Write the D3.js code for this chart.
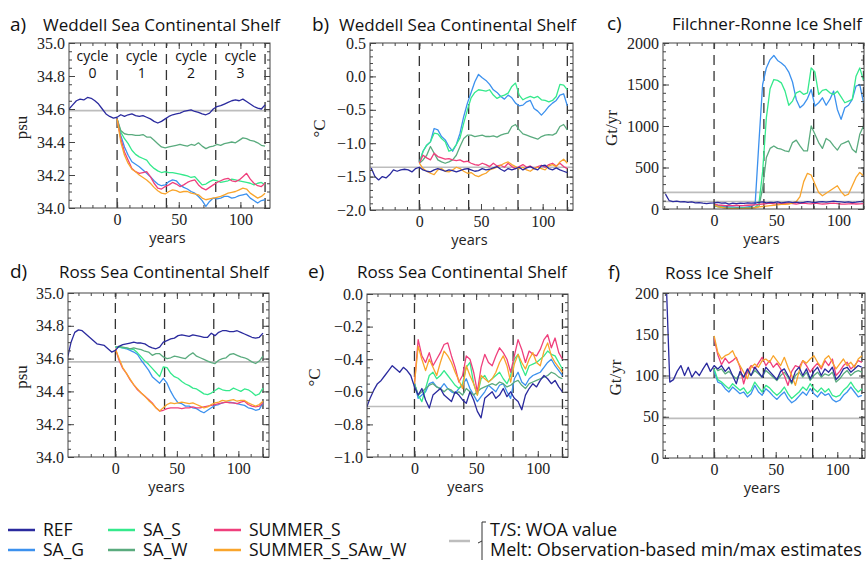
<!DOCTYPE html>
<html>
<head>
<meta charset="utf-8">
<script src="https://cdn.jsdelivr.net/npm/d3@7"></script>
<style>
  body { margin: 0; background: #fff; }
  svg { display: block; }
</style>
</head>
<body>
<svg id="fig" width="867" height="561"></svg>
<script>
/* globals d3 */

// x positions: REF spin-up from -39, experiments from year 0, every 3 years
const refYears = d3.range(-39, 121, 3);
const expYears = d3.range(0, 121, 3);

const seriesNames = ["REF", "SA_G", "SA_S", "SA_W", "SUMMER_S", "SUMMER_S_SAw_W"];
const seriesColors = ["#2a2a9e", "#3c91ee", "#35e98c", "#5aab7e", "#ef3f7c", "#f9a52c"];

const cycleBreaks = [0, 40, 80, 120];
const cycleCentres = [-20, 20, 60, 100];
const cycleNames = ["0", "1", "2", "3"];

// a) Weddell Sea continental shelf salinity (psu)
const aREF = [34.60,34.625,34.65,34.66,34.655,34.67,34.665,34.65,34.63,34.60,
  34.57,34.555,34.545,34.55,34.565,34.555,34.565,34.57,34.56,34.555,
  34.56,34.55,34.54,34.525,34.515,34.525,34.54,34.555,34.565,34.57,
  34.575,34.585,34.59,34.595,34.585,34.58,34.57,34.565,34.575,34.60,
  34.615,34.62,34.63,34.64,34.65,34.655,34.65,34.66,34.645,34.63,
  34.615,34.605,34.60,34.625];
const aSAG = [34.54,34.44,34.37,34.32,34.28,34.265,34.25,34.23,34.21,34.19,
  34.165,34.145,34.135,34.14,34.16,34.17,34.165,34.14,34.125,34.115,
  34.10,34.09,34.07,34.045,34.01,34.04,34.06,34.055,34.06,34.07,
  34.07,34.06,34.065,34.075,34.08,34.085,34.06,34.045,34.03,34.045,34.05];
const aSAS = [34.54,34.46,34.42,34.39,34.35,34.325,34.31,34.30,34.29,34.26,
  34.24,34.225,34.215,34.22,34.215,34.215,34.21,34.205,34.20,34.195,
  34.185,34.19,34.165,34.14,34.145,34.16,34.17,34.165,34.155,34.16,
  34.165,34.175,34.17,34.165,34.16,34.155,34.15,34.14,34.15,34.155,34.14];
const aSAW = [34.54,34.47,34.45,34.445,34.445,34.44,34.44,34.445,34.43,34.43,
  34.41,34.39,34.37,34.365,34.37,34.375,34.38,34.385,34.38,34.375,
  34.385,34.38,34.395,34.375,34.36,34.37,34.375,34.385,34.38,34.39,
  34.395,34.40,34.395,34.41,34.425,34.42,34.41,34.405,34.395,34.38,34.375];
const aSUM = [34.54,34.42,34.34,34.29,34.24,34.22,34.21,34.215,34.22,34.19,
  34.15,34.12,34.115,34.13,34.14,34.155,34.145,34.13,34.14,34.155,
  34.165,34.17,34.14,34.12,34.11,34.125,34.14,34.155,34.165,34.175,
  34.18,34.165,34.16,34.17,34.19,34.21,34.175,34.15,34.135,34.13,34.15];
const aSUMW = [34.54,34.40,34.32,34.27,34.235,34.22,34.20,34.185,34.17,34.15,
  34.125,34.105,34.09,34.085,34.10,34.11,34.105,34.095,34.10,34.10,
  34.09,34.085,34.08,34.06,34.05,34.055,34.06,34.065,34.07,34.08,
  34.09,34.095,34.10,34.11,34.12,34.115,34.09,34.075,34.06,34.07,34.09];

// b) Weddell Sea continental shelf temperature (degC)
const bREF = [-1.37,-1.50,-1.55,-1.50,-1.52,-1.47,-1.40,-1.42,-1.40,-1.39,
  -1.40,-1.43,-1.38,-1.36,-1.40,-1.42,-1.43,-1.40,-1.38,-1.40,
  -1.42,-1.40,-1.41,-1.43,-1.41,-1.39,-1.38,-1.40,-1.42,-1.41,
  -1.38,-1.40,-1.39,-1.37,-1.35,-1.39,-1.42,-1.38,-1.40,-1.38,
  -1.36,-1.40,-1.37,-1.35,-1.38,-1.40,-1.34,-1.33,-1.38,-1.40,
  -1.37,-1.40,-1.42,-1.44];
const bSAG = [-1.30,-1.12,-1.03,-0.98,-0.78,-0.80,-0.90,-0.95,-1.05,-1.12,
  -1.02,-0.85,-0.60,-0.40,-0.24,-0.08,0.03,-0.02,-0.06,-0.12,
  -0.20,-0.24,-0.30,-0.34,-0.28,-0.32,-0.40,-0.44,-0.43,-0.38,
  -0.36,-0.48,-0.52,-0.58,-0.52,-0.45,-0.40,-0.36,-0.28,-0.26,-0.44];
const bSAS = [-1.30,-1.12,-1.03,-0.98,-0.85,-0.86,-0.93,-0.98,-1.12,-1.10,
  -1.02,-0.92,-0.70,-0.50,-0.32,-0.24,-0.20,-0.21,-0.22,-0.20,
  -0.28,-0.33,-0.30,-0.28,-0.25,-0.15,-0.10,-0.28,-0.35,-0.32,
  -0.30,-0.32,-0.30,-0.35,-0.36,-0.38,-0.36,-0.30,-0.12,-0.13,-0.20];
const bSAW = [-1.30,-1.25,-1.18,-1.05,-1.15,-1.25,-1.28,-1.30,-1.28,-1.25,
  -1.18,-1.05,-0.93,-0.88,-0.88,-0.90,-0.89,-0.88,-0.90,-0.90,
  -0.89,-0.91,-0.88,-0.86,-0.85,-0.75,-0.72,-0.80,-0.86,-0.88,
  -0.90,-0.92,-0.94,-0.90,-0.88,-0.87,-0.88,-0.85,-0.75,-0.72,-0.80];
const bSUM = [-1.30,-1.18,-1.22,-1.25,-1.15,-1.20,-1.22,-1.24,-1.23,-1.25,
  -1.26,-1.25,-1.28,-1.27,-1.30,-1.32,-1.33,-1.30,-1.32,-1.35,
  -1.30,-1.34,-1.33,-1.36,-1.30,-1.35,-1.38,-1.35,-1.32,-1.36,
  -1.34,-1.38,-1.35,-1.33,-1.36,-1.32,-1.30,-1.34,-1.30,-1.35,-1.38];
const bSUMW = [-1.30,-1.38,-1.42,-1.45,-1.47,-1.40,-1.38,-1.42,-1.43,-1.40,
  -1.36,-1.38,-1.42,-1.45,-1.44,-1.48,-1.50,-1.47,-1.45,-1.40,
  -1.38,-1.36,-1.33,-1.30,-1.28,-1.32,-1.35,-1.38,-1.36,-1.40,
  -1.42,-1.38,-1.36,-1.38,-1.40,-1.34,-1.32,-1.35,-1.28,-1.24,-1.30];

// c) Filchner-Ronne Ice Shelf basal melt (Gt/yr)
const cREF = [180,100,90,95,85,90,80,85,75,78,
  70,65,72,75,80,70,75,60,70,65,
  72,68,75,70,72,80,85,75,80,78,
  85,75,80,85,78,82,75,80,88,82,
  78,85,90,82,88,95,90,85,80,85,
  78,82,88,90];
const cSAG = [60,45,35,30,25,25,20,22,20,25,
  30,60,800,1500,1700,1800,1850,1790,1760,1720,
  1650,1530,1320,1220,1260,1330,1440,1240,1280,1340,
  1250,1320,1420,1200,1080,1220,1250,1320,1480,1500,1280];
const cSAS = [50,35,25,15,10,10,8,10,12,12,
  15,20,60,450,1100,1450,1560,1550,1520,1420,
  1250,1300,1400,1420,1380,1400,1700,1650,1380,1430,
  1440,1400,1380,1420,1350,1280,1300,1320,1600,1700,1550];
const cSAW = [40,25,20,15,10,10,12,10,12,15,
  18,20,30,250,620,730,760,730,720,700,
  690,800,830,760,700,700,1000,900,800,730,
  850,820,760,710,780,800,820,720,680,900,1000];
const cSUM = [60,50,45,40,42,40,45,40,42,45,
  48,50,55,60,65,70,62,60,65,68,
  70,65,60,68,72,65,62,70,66,60,
  62,68,70,65,60,58,62,65,60,62,65];
const cSUMW = [50,30,20,10,5,5,5,5,5,8,
  10,15,25,30,35,40,45,50,55,55,
  60,70,90,150,330,430,410,300,200,160,
  190,220,250,280,210,160,180,280,380,440,400];

// d) Ross Sea continental shelf salinity (psu)
const dREF = [34.60,34.70,34.76,34.775,34.77,34.75,34.73,34.71,34.69,34.685,
  34.68,34.66,34.64,34.65,34.675,34.685,34.69,34.695,34.70,34.695,
  34.695,34.69,34.675,34.665,34.66,34.67,34.70,34.71,34.72,34.725,
  34.74,34.745,34.74,34.735,34.745,34.74,34.735,34.73,34.73,34.755,
  34.74,34.76,34.77,34.77,34.765,34.765,34.77,34.76,34.75,34.74,
  34.73,34.725,34.73,34.755];
const dSAG = [34.67,34.67,34.665,34.66,34.65,34.64,34.625,34.59,34.56,34.53,
  34.49,34.47,34.45,34.48,34.45,34.40,34.36,34.33,34.325,34.31,
  34.31,34.30,34.295,34.28,34.27,34.285,34.30,34.315,34.32,34.33,
  34.335,34.335,34.33,34.325,34.32,34.315,34.30,34.295,34.285,34.29,34.33];
const dSAS = [34.67,34.67,34.665,34.665,34.66,34.655,34.635,34.61,34.585,34.565,
  34.54,34.515,34.49,34.55,34.545,34.51,34.49,34.48,34.46,34.445,
  34.435,34.42,34.415,34.40,34.385,34.38,34.39,34.405,34.42,34.41,
  34.405,34.405,34.42,34.41,34.40,34.415,34.41,34.395,34.375,34.385,34.42];
const dSAW = [34.67,34.675,34.67,34.665,34.66,34.665,34.66,34.655,34.645,34.64,
  34.62,34.63,34.63,34.61,34.60,34.605,34.615,34.61,34.605,34.60,
  34.62,34.635,34.615,34.605,34.595,34.585,34.575,34.57,34.59,34.60,
  34.605,34.625,34.63,34.62,34.61,34.605,34.595,34.58,34.57,34.585,34.615];
const dSUM = [34.66,34.59,34.54,34.51,34.47,34.44,34.41,34.39,34.37,34.35,
  34.33,34.30,34.28,34.285,34.295,34.30,34.30,34.30,34.295,34.30,
  34.30,34.305,34.30,34.30,34.305,34.31,34.315,34.32,34.325,34.33,
  34.335,34.33,34.33,34.325,34.335,34.34,34.32,34.31,34.305,34.31,34.33];
const dSUMW = [34.66,34.60,34.545,34.51,34.475,34.44,34.415,34.39,34.37,34.345,
  34.325,34.30,34.28,34.30,34.32,34.33,34.325,34.33,34.335,34.33,
  34.325,34.33,34.32,34.31,34.30,34.305,34.32,34.33,34.335,34.345,
  34.34,34.345,34.35,34.34,34.345,34.345,34.33,34.32,34.31,34.32,34.34];

// e) Ross Sea continental shelf temperature (degC)
const eREF = [-0.70,-0.64,-0.59,-0.55,-0.53,-0.50,-0.47,-0.44,-0.46,-0.48,
  -0.45,-0.47,-0.50,-0.57,-0.62,-0.58,-0.65,-0.70,-0.62,-0.60,
  -0.58,-0.62,-0.64,-0.66,-0.60,-0.62,-0.65,-0.67,-0.60,-0.65,
  -0.72,-0.76,-0.64,-0.62,-0.60,-0.64,-0.62,-0.58,-0.63,-0.60,
  -0.64,-0.66,-0.71,-0.62,-0.58,-0.55,-0.57,-0.53,-0.50,-0.52,
  -0.55,-0.53,-0.57,-0.60];
const eSAG = [-0.55,-0.64,-0.62,-0.60,-0.55,-0.54,-0.57,-0.58,-0.55,-0.58,
  -0.60,-0.61,-0.58,-0.56,-0.52,-0.58,-0.62,-0.66,-0.63,-0.60,
  -0.56,-0.58,-0.60,-0.56,-0.55,-0.60,-0.64,-0.52,-0.48,-0.54,
  -0.56,-0.52,-0.50,-0.49,-0.48,-0.45,-0.42,-0.40,-0.44,-0.47,-0.50];
const eSAS = [-0.55,-0.62,-0.66,-0.58,-0.50,-0.48,-0.52,-0.50,-0.47,-0.50,
  -0.53,-0.56,-0.58,-0.55,-0.45,-0.42,-0.55,-0.62,-0.52,-0.50,
  -0.54,-0.52,-0.50,-0.48,-0.52,-0.55,-0.50,-0.40,-0.37,-0.45,
  -0.50,-0.44,-0.43,-0.42,-0.40,-0.38,-0.35,-0.37,-0.38,-0.42,-0.46];
const eSAW = [-0.55,-0.62,-0.60,-0.58,-0.56,-0.55,-0.57,-0.58,-0.60,-0.58,
  -0.59,-0.61,-0.60,-0.62,-0.58,-0.60,-0.62,-0.60,-0.58,-0.57,
  -0.56,-0.55,-0.56,-0.54,-0.55,-0.57,-0.56,-0.54,-0.53,-0.56,
  -0.58,-0.55,-0.54,-0.53,-0.52,-0.51,-0.50,-0.48,-0.49,-0.51,-0.52];
const eSUM = [-0.55,-0.28,-0.38,-0.42,-0.36,-0.44,-0.40,-0.36,-0.31,-0.30,
  -0.38,-0.45,-0.54,-0.50,-0.38,-0.40,-0.48,-0.60,-0.45,-0.37,
  -0.42,-0.44,-0.38,-0.33,-0.36,-0.40,-0.48,-0.38,-0.28,-0.34,
  -0.42,-0.35,-0.37,-0.38,-0.34,-0.28,-0.25,-0.33,-0.27,-0.36,-0.40];
const eSUMW = [-0.55,-0.32,-0.40,-0.47,-0.40,-0.45,-0.50,-0.42,-0.35,-0.38,
  -0.42,-0.48,-0.53,-0.58,-0.44,-0.50,-0.55,-0.62,-0.50,-0.52,
  -0.54,-0.52,-0.48,-0.42,-0.38,-0.44,-0.54,-0.43,-0.37,-0.42,
  -0.46,-0.40,-0.36,-0.42,-0.44,-0.35,-0.30,-0.38,-0.42,-0.45,-0.48];

// f) Ross Ice Shelf basal melt (Gt/yr)
const fREF = [220,92,95,105,112,100,110,98,105,100,
  108,115,105,112,108,112,105,110,100,90,
  105,98,108,100,110,104,98,110,105,100,
  95,105,108,100,92,105,110,100,108,96,
  105,110,100,108,104,110,95,100,108,110,
  104,108,112,110];
const fSAG = [105,92,90,84,80,86,82,78,80,74,
  78,88,80,76,84,80,75,71,76,80,
  72,67,70,75,80,76,84,78,74,80,
  76,78,71,68,70,76,80,86,80,74,76];
const fSAS = [108,95,92,88,84,90,86,82,85,78,
  82,92,86,80,88,85,80,76,80,86,
  78,72,76,80,86,82,90,84,80,85,
  80,84,76,74,76,82,86,92,85,80,84];
const fSAW = [112,106,108,102,105,100,96,102,98,104,
  100,106,102,98,106,102,98,94,100,104,
  98,90,100,104,98,104,94,100,104,98,
  102,100,104,92,96,102,106,100,104,106,104];
const fSUM = [145,125,113,121,115,118,122,110,90,105,
  112,108,115,122,112,118,110,115,108,100,
  88,105,112,110,118,112,104,110,115,108,
  118,112,120,100,105,112,116,108,112,118,116];
const fSUMW = [148,128,120,124,126,130,120,112,104,96,
  110,114,110,118,120,116,124,118,112,122,
  110,100,88,105,118,115,120,124,116,110,
  120,124,116,108,114,120,112,116,110,120,124];

// grey reference values (WOA value / observed melt min-max)
const aObs = [34.59];
const bObs = [-1.36];
const cObs = [200, 90];
const dObs = [34.58];
const eObs = [-0.69];
const fObs = [97, 48];

const aTicks = [34.0, 34.2, 34.4, 34.6, 34.8, 35.0];
const bTicks = [-2.0, -1.5, -1.0, -0.5, 0.0, 0.5];
const cTicks = [0, 500, 1000, 1500, 2000];
const eTicks = [-1.0, -0.8, -0.6, -0.4, -0.2, 0.0];
const fTicks = [0, 50, 100, 150, 200];
const xTicks = [0, 50, 100];

const panels = [
  { key: "a", letter: "a)", title: "Weddell Sea Continental Shelf", unit: "psu",
    box: [69, 43, 270, 208], xDom: [-39, 124], yDom: [34, 35], yTicks: aTicks, yMinor: 0.05,
    fmt: ".1f", obs: aObs, data: [aREF, aSAG, aSAS, aSAW, aSUM, aSUMW],
    letterX: 10, titleX: 43, titleY: 31, unitX: 21, cycles: true },
  { key: "b", letter: "b)", title: "Weddell Sea Continental Shelf", unit: "°C",
    box: [370, 43, 573, 210], xDom: [-40, 124.6], yDom: [-2, 0.5], yTicks: bTicks, yMinor: 0.1,
    fmt: ".1f", obs: bObs, data: [bREF, bSAG, bSAS, bSAW, bSUM, bSUMW],
    letterX: 312, titleX: 339, titleY: 31, unitX: 319 },
  { key: "c", letter: "c)", title: "Filchner-Ronne Ice Shelf", unit: "Gt/yr",
    box: [663, 43, 864, 209], xDom: [-41, 120.4], yDom: [0, 2000], yTicks: cTicks, yMinor: 100,
    fmt: "d", obs: cObs, data: [cREF, cSAG, cSAS, cSAW, cSUM, cSUMW],
    letterX: 607, titleX: 672, titleY: 30, unitX: 611 },
  { key: "d", letter: "d)", title: "Ross Sea Continental Shelf", unit: "psu",
    box: [68, 293, 269, 457], xDom: [-38.5, 124.9], yDom: [34, 35], yTicks: aTicks, yMinor: 0.05,
    fmt: ".1f", obs: dObs, data: [dREF, dSAG, dSAS, dSAW, dSUM, dSUMW],
    letterX: 10, titleX: 59, titleY: 278, unitX: 21 },
  { key: "e", letter: "e)", title: "Ross Sea Continental Shelf", unit: "°C",
    box: [367, 294, 568, 457], xDom: [-38.5, 124.5], yDom: [-1, 0], yTicks: eTicks, yMinor: 0.05,
    fmt: ".1f", obs: eObs, data: [eREF, eSAG, eSAS, eSAW, eSUM, eSUMW],
    letterX: 308, titleX: 357, titleY: 278, unitX: 314 },
  { key: "f", letter: "f)", title: "Ross Ice Shelf", unit: "Gt/yr",
    box: [663, 293, 865, 458], xDom: [-41.5, 122.5], yDom: [0, 200], yTicks: fTicks, yMinor: 10,
    fmt: "d", obs: fObs, data: [fREF, fSAG, fSAS, fSAW, fSUM, fSUMW],
    letterX: 608, titleX: 665, titleY: 279, unitX: 615 },
];

const svg = d3.select("#fig");
const sans = "'Open Sans', sans-serif";
const serif = "'Liberation Serif', 'DejaVu Serif', serif";
const axisInk = "#444";

panels.forEach((p) => drawPanel(p));
drawLegend();

function styleAxis(g, withText) {
  g.select(".domain").remove();
  g.selectAll("line").attr("stroke", axisInk);
  g.attr("font-family", serif).attr("font-size", 16);
  if (withText) g.selectAll("text").attr("fill", "#222");
}

function drawPanel(p) {
  const [x0, y0, x1, y1] = p.box;
  const x = d3.scaleLinear().domain(p.xDom).range([x0, x1]);
  const y = d3.scaleLinear().domain(p.yDom).range([y1, y0]);
  const g = svg.append("g").attr("class", "panel-" + p.key);

  svg.append("clipPath").attr("id", "clip-" + p.key)
    .append("rect").attr("x", x0).attr("y", y0).attr("width", x1 - x0).attr("height", y1 - y0);
  const plot = g.append("g").attr("clip-path", `url(#clip-${p.key})`);

  // grey observation lines
  plot.selectAll("line.obs").data(p.obs).join("line")
    .attr("class", "obs")
    .attr("x1", x0).attr("x2", x1)
    .attr("y1", (d) => y(d)).attr("y2", (d) => y(d))
    .attr("stroke", "#bdbdbd").attr("stroke-width", 1.6);

  // dashed cycle boundaries
  plot.selectAll("line.cyc").data(cycleBreaks).join("line")
    .attr("class", "cyc")
    .attr("x1", (d) => x(d)).attr("x2", (d) => x(d))
    .attr("y1", y1).attr("y2", y0)
    .attr("stroke", "#333").attr("stroke-width", 1.3)
    .attr("stroke-dasharray", "10,6");

  // model runs: experiments first, REF on top
  const line = d3.line().x((d) => x(d[0])).y((d) => y(d[1]));
  const order = [1, 2, 3, 4, 5, 0];
  order.forEach((i) => {
    const yrs = i === 0 ? refYears : expYears;
    const pts = yrs.map((yr, j) => [yr, p.data[i][j]]);
    plot.append("path")
      .datum(pts)
      .attr("d", line)
      .attr("fill", "none")
      .attr("stroke", seriesColors[i])
      .attr("stroke-width", 1.3)
      .attr("stroke-linejoin", "round");
  });

  // frame
  g.append("rect")
    .attr("x", x0).attr("y", y0).attr("width", x1 - x0).attr("height", y1 - y0)
    .attr("fill", "none").attr("stroke", axisInk).attr("stroke-width", 1);

  // y axes (ticks point inward)
  const yMinorVals = d3.range(p.yDom[0], p.yDom[1] + p.yMinor / 2, p.yMinor);
  const fmt = d3.format(p.fmt);
  g.append("g").attr("transform", `translate(${x0},0)`)
    .call(d3.axisLeft(y).tickValues(p.yTicks).tickSize(-6).tickSizeOuter(0).tickPadding(4).tickFormat(fmt))
    .call((s) => styleAxis(s, true));
  g.append("g").attr("transform", `translate(${x0},0)`)
    .call(d3.axisLeft(y).tickValues(yMinorVals).tickSize(-3).tickSizeOuter(0).tickFormat(""))
    .call((s) => styleAxis(s, false));
  g.append("g").attr("transform", `translate(${x1},0)`)
    .call(d3.axisRight(y).tickValues(p.yTicks).tickSize(-6).tickSizeOuter(0).tickFormat(""))
    .call((s) => styleAxis(s, false));
  g.append("g").attr("transform", `translate(${x1},0)`)
    .call(d3.axisRight(y).tickValues(yMinorVals).tickSize(-3).tickSizeOuter(0).tickFormat(""))
    .call((s) => styleAxis(s, false));

  // x axes
  const xMinorVals = d3.range(-40, 125, 10).filter((v) => v >= p.xDom[0] && v <= p.xDom[1]);
  g.append("g").attr("transform", `translate(0,${y1})`)
    .call(d3.axisBottom(x).tickValues(xTicks).tickSize(-6).tickSizeOuter(0).tickPadding(6).tickFormat(d3.format("d")))
    .call((s) => styleAxis(s, true));
  g.append("g").attr("transform", `translate(0,${y1})`)
    .call(d3.axisBottom(x).tickValues(xMinorVals).tickSize(-3).tickSizeOuter(0).tickFormat(""))
    .call((s) => styleAxis(s, false));
  g.append("g").attr("transform", `translate(0,${y0})`)
    .call(d3.axisTop(x).tickValues(xTicks).tickSize(-6).tickSizeOuter(0).tickFormat(""))
    .call((s) => styleAxis(s, false));
  g.append("g").attr("transform", `translate(0,${y0})`)
    .call(d3.axisTop(x).tickValues(xMinorVals).tickSize(-3).tickSizeOuter(0).tickFormat(""))
    .call((s) => styleAxis(s, false));

  // labels
  g.append("text")
    .attr("x", (x0 + x1) / 2 - 2).attr("y", y1 + 35)
    .attr("text-anchor", "middle")
    .attr("font-family", sans).attr("font-size", 14.5).attr("fill", "#222")
    .text("years");
  g.append("text")
    .attr("transform", `translate(${p.unitX},${(y0 + y1) / 2 + 2}) rotate(-90)`)
    .attr("text-anchor", "middle").attr("dy", "0.35em")
    .attr("font-family", serif).attr("font-size", 17).attr("fill", "#222")
    .text(p.unit);
  g.append("text")
    .attr("x", p.letterX).attr("y", p.titleY)
    .attr("font-family", sans).attr("font-size", 19).attr("fill", "#111")
    .text(p.letter);
  g.append("text")
    .attr("x", p.titleX).attr("y", p.titleY)
    .attr("font-family", sans).attr("font-size", 17).attr("fill", "#111")
    .text(p.title);

  if (p.cycles) {
    const cg = g.selectAll("g.cycle").data(cycleCentres).join("g")
      .attr("class", "cycle")
      .attr("transform", (d) => `translate(${x(d)},0)`);
    cg.append("text").attr("y", y0 + 18).attr("text-anchor", "middle")
      .attr("font-family", sans).attr("font-size", 14).attr("fill", "#111")
      .text("cycle");
    cg.append("text").attr("y", y0 + 35).attr("text-anchor", "middle")
      .attr("font-family", sans).attr("font-size", 14).attr("fill", "#111")
      .text((d, i) => cycleNames[i]);
  }
}

function drawLegend() {
  const cols = [8, 108, 214];
  const rows = [530, 550];
  const lg = svg.append("g").attr("class", "legend");
  seriesNames.forEach((name, i) => {
    const cx = cols[Math.floor(i / 2)];
    const cy = rows[i % 2];
    lg.append("line")
      .attr("x1", cx).attr("x2", cx + 27).attr("y1", cy).attr("y2", cy)
      .attr("stroke", seriesColors[i]).attr("stroke-width", 2.5);
    lg.append("text")
      .attr("x", cx + 35).attr("y", cy).attr("dy", "0.35em")
      .attr("font-family", sans).attr("font-size", 17.5).attr("fill", "#111")
      .text(name);
  });
  lg.append("line")
    .attr("x1", 449).attr("x2", 470).attr("y1", 541).attr("y2", 541)
    .attr("stroke", "#bdbdbd").attr("stroke-width", 2.5);
  lg.append("path")
    .attr("d", "M486,522 L482,522 L482,560 M482,541 L478,543")
    .attr("fill", "none").attr("stroke", "#333").attr("stroke-width", 1);
  lg.append("text")
    .attr("x", 490).attr("y", 530).attr("dy", "0.35em")
    .attr("font-family", sans).attr("font-size", 18).attr("fill", "#111")
    .text("T/S: WOA value");
  lg.append("text")
    .attr("x", 490).attr("y", 550).attr("dy", "0.35em")
    .attr("font-family", sans).attr("font-size", 18).attr("fill", "#111")
    .text("Melt: Observation-based min/max estimates");
}
</script>
</body>
</html>
